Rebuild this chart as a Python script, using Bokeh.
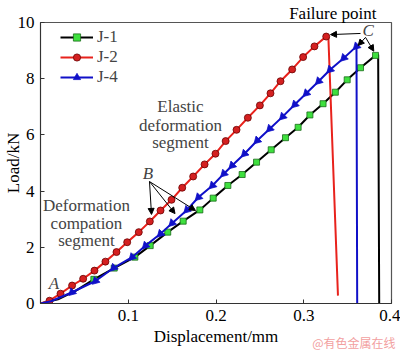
import math
from bokeh.plotting import figure
from bokeh.models import (Range1d, FixedTicker, Label, Arrow, NormalHead,
                          Legend, LegendItem, Title)
from bokeh.embed import file_html
from bokeh.resources import INLINE

# ---------------- data ----------------
# J-1 (black line, green square markers)
j1_disp = [0.0, 0.020, 0.040, 0.0608, 0.084, 0.1075, 0.125, 0.145, 0.1626, 0.1816,
           0.1968, 0.2135, 0.2298, 0.2462, 0.2629, 0.2792, 0.2936, 0.307, 0.322,
           0.336, 0.3495, 0.3647, 0.3818, 0.3848, 0.386]
j1_load = [0.0, 0.15, 0.45, 0.86, 1.26, 1.65, 2.06, 2.54, 2.93, 3.33,
           3.75, 4.20, 4.59, 5.03, 5.47, 5.90, 6.27, 6.71, 7.11,
           7.52, 7.96, 8.39, 8.83, 8.85, 0.0]
j1_mark = slice(3, 23)

# J-2 (red line, red circle markers)
j2_disp = [0.0, 0.0103, 0.0228, 0.036, 0.0486, 0.0615, 0.074, 0.0866, 0.0988, 0.112,
           0.1246, 0.1368, 0.1493, 0.1615, 0.174, 0.187, 0.1994, 0.211, 0.2234,
           0.2363, 0.25, 0.2621, 0.2735, 0.2868, 0.2993, 0.3122, 0.3256, 0.328, 0.339]
j2_load = [0.0, 0.10, 0.35, 0.64, 0.88, 1.17, 1.49, 1.83, 2.18, 2.54,
           2.92, 3.31, 3.69, 4.12, 4.52, 4.95, 5.33, 5.78, 6.18,
           6.61, 7.05, 7.48, 7.91, 8.33, 8.77, 9.15, 9.50, 9.53, 0.28]
j2_mark = slice(1, 27)

# J-4 (blue line, blue triangle markers)
j4_disp = [0.0, 0.012, 0.036, 0.0627, 0.0835, 0.1045, 0.1197, 0.1368, 0.150, 0.167,
           0.180, 0.196, 0.209, 0.2184, 0.2325, 0.247, 0.2613, 0.276, 0.2898,
           0.303, 0.317, 0.330, 0.3457, 0.3601, 0.3609]
j4_load = [0.0, 0.08, 0.40, 0.80, 1.27, 1.65, 2.06, 2.48, 2.86, 3.33,
           3.78, 4.20, 4.62, 4.91, 5.33, 5.80, 6.22, 6.65, 7.08,
           7.48, 7.91, 8.32, 8.74, 9.15, 0.0]
j4_mark = slice(2, 24)

x_ticks = [0.1, 0.2, 0.3, 0.4]
y_ticks = [0, 2, 4, 6, 8, 10]

FONT = "'Liberation Serif'"
FS = "17px"

p = figure(width=400, height=351, output_backend="svg", toolbar_location=None,
           x_range=Range1d(0, 0.4), y_range=Range1d(0, 10),
           min_border_left=40, min_border_right=9, min_border_top=22, min_border_bottom=48)
p.xgrid.visible = False
p.ygrid.visible = False
p.outline_line_color = "#555555"
p.outline_line_width = 1.2
p.background_fill_color = "white"
p.border_fill_color = "white"

p.title = Title(text="Failure point", align="right", offset=15, standoff=0)
p.title.text_font = FONT
p.title.text_font_size = FS
p.title.text_font_style = "normal"
p.title.text_color = "black"

p.xaxis.ticker = FixedTicker(ticks=x_ticks)
p.yaxis.ticker = FixedTicker(ticks=y_ticks)
for axs in (p.xaxis, p.yaxis):
    axs.major_tick_in = 4
    axs.major_tick_out = 0
    axs.minor_tick_line_color = None
    axs.axis_line_color = "#333333"
    axs.major_tick_line_color = "#333333"
    axs.major_label_text_font = FONT
    axs.major_label_text_font_size = FS
    axs.major_label_text_color = "black"
    axs.axis_label_text_font = FONT
    axs.axis_label_text_font_size = FS
    axs.axis_label_text_font_style = "normal"
    axs.axis_label_text_color = "black"
p.xaxis.major_label_standoff = 6
p.yaxis.major_label_standoff = 6
p.xaxis.axis_label = "Displacement/mm"
p.yaxis.axis_label = "Load/kN"
p.xaxis.axis_label_standoff = 3
p.yaxis.axis_label_standoff = -8

# watermark below the axis title row, pulled up beside it
wm = Title(text="@有色金属在线", align="right", vertical_align="top", offset=-4,
           standoff=-30, text_font="'Noto Sans CJK SC'", text_font_size="12px",
           text_color="#f2a0a0", text_font_style="normal")
p.add_layout(wm, "below")

# curves
r1l = p.line(j1_disp, j1_load, line_color="black", line_width=2)
r1m = p.scatter(j1_disp[j1_mark], j1_load[j1_mark], marker="square", size=6,
                fill_color="#3ee03e", line_color="#1a6a1a", line_width=0.8)
r2l = p.line(j2_disp, j2_load, line_color="#e8221c", line_width=2)
r2m = p.scatter(j2_disp[j2_mark], j2_load[j2_mark], marker="circle", size=7,
                fill_color="#d42020", line_color="#6a0000", line_width=0.8)
r4l = p.line(j4_disp, j4_load, line_color="#1010c8", line_width=2)
# triangles drawn as arrowheads along the curve (as in the reference)
r4m = p.scatter(j4_disp[j4_mark], j4_load[j4_mark], marker="triangle", size=8,
                angle=math.radians(135),
                fill_color="#1010c8", line_color="#1010c8", line_width=0.8)

legend = Legend(items=[LegendItem(label="J-1", renderers=[r1l, r1m]),
                       LegendItem(label="J-2", renderers=[r2l, r2m]),
                       LegendItem(label="J-4", renderers=[r4l, r4m])],
                location=(20, 216), padding=0, spacing=0, margin=0,
                glyph_width=33, glyph_height=18, label_height=18,
                label_standoff=4, border_line_color=None,
                background_fill_alpha=0,
                label_text_font=FONT, label_text_font_size=FS)
p.add_layout(legend)

def lab(x, y, t, italic=False, align="center", **kw):
    p.add_layout(Label(x=x, y=y, text=t, text_font=FONT, text_font_size=FS,
                       text_align=align, text_baseline="middle",
                       text_font_style="italic" if italic else "normal", **kw))

# annotations
lab(0.3735, 9.72, "C", italic=True)
lab(0.1595, 7.0, "Elastic")
lab(0.1595, 6.35, "deformation")
lab(0.1595, 5.72, "segment")
lab(0.0524, 3.5, "Deformation")
lab(0.0524, 2.86, "compation")
lab(0.0524, 2.24, "segment")
lab(0.0153, 0.72, "A", italic=True)
lab(0.1223, 4.62, "B", italic=True)

def arr(x0, y0, x1, y1):
    p.add_layout(Arrow(x_start=x0, y_start=y0, x_end=x1, y_end=y1,
                       line_color="black", line_width=1,
                       end=NormalHead(size=6, fill_color="black", line_color="black")))

arr(0.3647, 9.61, 0.3305, 9.57)
arr(0.3704, 9.47, 0.362, 9.18)
arr(0.3704, 9.47, 0.3798, 8.98)
arr(0.1242, 4.34, 0.1265, 3.17)
arr(0.1242, 4.34, 0.1533, 3.20)
arr(0.1242, 4.34, 0.1766, 3.31)

open("out.html", "w").write(file_html(p, INLINE))
